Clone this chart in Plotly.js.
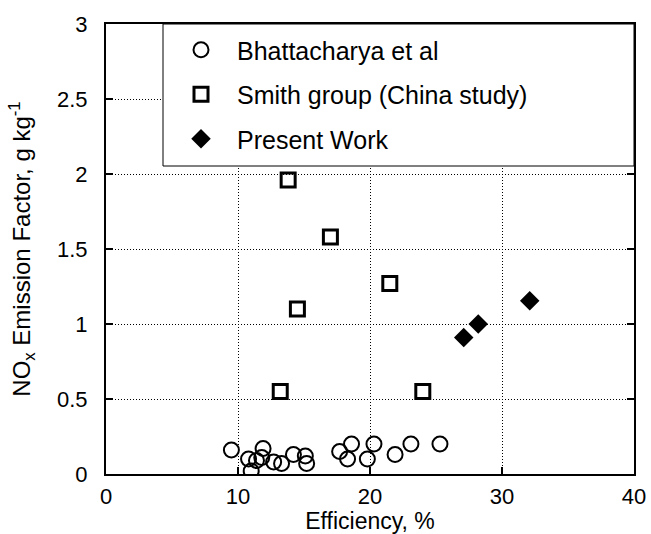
<!DOCTYPE html>
<html>
<head>
<meta charset="utf-8">
<script src="https://cdn.plot.ly/plotly-3.0.1.min.js"></script>
<style>html,body{margin:0;padding:0;background:#fff;}#chart{width:651px;height:534px;}</style>
</head>
<body>
<div id="chart"></div>
<script>
// Bhattacharya et al
const bhattX = [9.5, 10.8, 11.0, 11.4, 11.9, 11.8, 12.7, 13.3, 14.2, 15.1, 15.2, 17.7, 18.6, 18.3, 19.8, 20.3, 21.9, 23.1, 25.3];
const bhattY = [0.16, 0.10, 0.02, 0.09, 0.17, 0.11, 0.08, 0.07, 0.13, 0.12, 0.07, 0.15, 0.20, 0.10, 0.10, 0.20, 0.13, 0.20, 0.20];
// Smith group (China study)
const smithX = [13.8, 17.0, 21.5, 14.5, 13.2, 24.0];
const smithY = [1.96, 1.58, 1.27, 1.10, 0.55, 0.55];
// Present Work
const presentX = [27.1, 28.2, 32.1];
const presentY = [0.91, 1.00, 1.155];

const seriesNames = ["Bhattacharya et al", "Smith group (China study)", "Present Work"];
const xTicks = [0, 10, 20, 30, 40];
const yTicks = [0, 0.5, 1, 1.5, 2, 2.5, 3];

const FONT = "Liberation Sans, Arial, sans-serif";

const traces = [
  {x: bhattX, y: bhattY, name: seriesNames[0], type: "scatter", mode: "markers", legendgroup: "a",
   marker: {symbol: "circle-open", size: 15, color: "#000", line: {width: 2, color: "#000"}}},
  {x: smithX, y: smithY, name: seriesNames[1], type: "scatter", mode: "markers", legendgroup: "b",
   marker: {symbol: "square-open", size: 14, color: "#000", line: {width: 3, color: "#000"}}},
  {x: presentX, y: presentY, name: seriesNames[2], type: "scatter", mode: "markers", legendgroup: "c",
   marker: {symbol: "diamond", size: 15, color: "#000", line: {width: 0}}}
];

const axisCommon = {
  showline: true, linecolor: "#000", linewidth: 2, mirror: "ticks",
  ticks: "inside", ticklen: 7, tickwidth: 1.5, tickcolor: "#000",
  showgrid: true, gridcolor: "#000", griddash: "1px,2px", gridwidth: 1,
  zeroline: false, tickfont: {family: FONT, size: 22, color: "#000"}
};

const layout = {
  width: 651, height: 534,
  margin: {l: 106, r: 17, t: 24, b: 60},
  paper_bgcolor: "#fff", plot_bgcolor: "#fff",
  font: {family: FONT, color: "#000"},
  xaxis: Object.assign({}, axisCommon, {
    range: [0, 40], tickvals: xTicks, ticktext: xTicks.map(String), ticklabelstandoff: 2,
    title: {text: "Efficiency, %", font: {family: FONT, size: 23, color: "#000"}, standoff: 3}
  }),
  yaxis: Object.assign({}, axisCommon, {
    range: [0, 3], tickvals: yTicks, ticktext: yTicks.map(String), ticklabelstandoff: 12,
    title: {text: "NO<sub>x</sub> Emission Factor, g kg<sup>-1</sup>", font: {family: FONT, size: 24, color: "#000"}, standoff: 20}
  }),
  showlegend: true,
  legend: {
    x: (165 - 106) / 528, y: 1 - 3 / 450, xanchor: "left", yanchor: "top",
    bgcolor: "rgba(0,0,0,0)", borderwidth: 0,
    font: {family: FONT, size: 25, color: "#000"},
    traceorder: "grouped", tracegroupgap: 9, itemwidth: 62
  },
  shapes: [{
    type: "rect", xref: "paper", yref: "paper", x0: (163 - 106) / 528, x1: 1, y0: (474 - 166) / 450, y1: 1,
    line: {color: "#000", width: 1}, fillcolor: "#fff", layer: "above"
  }]
};

Plotly.newPlot("chart", traces, layout, {displayModeBar: false, staticPlot: true});
</script>
</body>
</html>
